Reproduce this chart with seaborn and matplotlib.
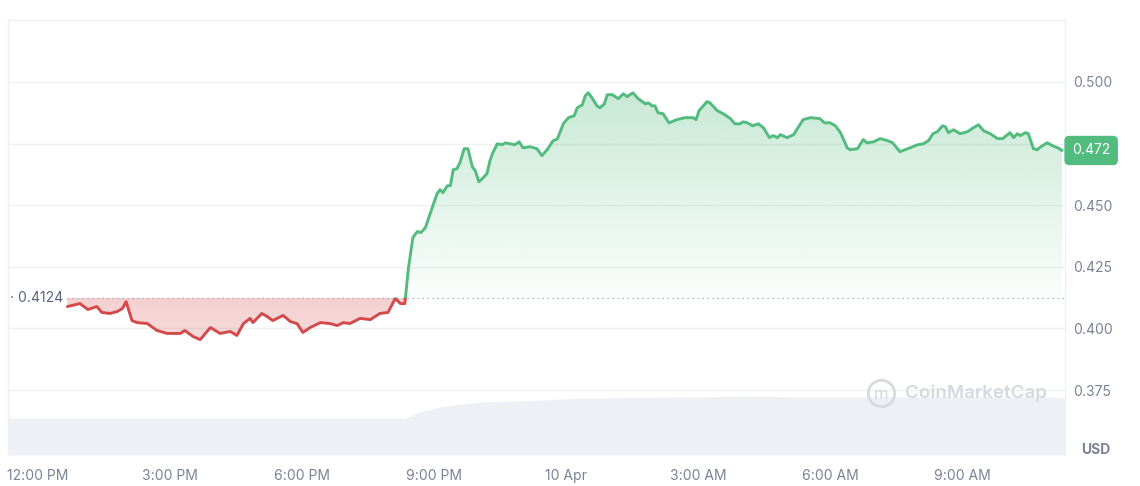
import numpy as np
import pandas as pd
import matplotlib.pyplot as plt
import matplotlib.dates as mdates
from matplotlib.patches import Rectangle, Polygon
import seaborn as sns

# -------------------------------------------------------------------------
# data - minutes after 12:00 PM, 9 Apr
# -------------------------------------------------------------------------
START = pd.Timestamp("2024-04-09 12:00")

price_minutes = [
    40, 57, 68, 80, 87, 98, 108, 115, 120, 128, 135, 149, 162, 176, 194, 200,
    211, 221, 235, 248, 262, 271, 280, 289, 293, 305, 312, 320, 334, 344, 353,
    361, 371, 385, 398, 408, 416, 425, 439, 453, 466, 477, 487, 494, 500,
    505, 511, 517, 522, 528, 535, 544, 548, 552, 558, 562, 566, 571, 575, 581,
    586, 592, 596, 601, 607, 612, 616, 620, 626, 633, 637, 650, 656, 661, 671,
    680, 687, 695, 702, 708, 716, 723, 731, 735, 742, 746, 750, 755, 762, 766,
    772, 776, 783, 791, 798, 803, 811, 818, 828, 832, 837, 841, 845, 852, 860,
    871, 882, 893, 897, 901, 912, 916, 926, 934, 944, 950, 957, 961, 967, 974,
    982, 989, 997, 1002, 1008, 1012, 1021, 1030, 1036, 1043, 1053, 1066, 1072,
    1080, 1087, 1094, 1103, 1107, 1117, 1125, 1130, 1139, 1148, 1158, 1165,
    1175, 1189, 1199, 1207, 1214, 1220, 1226, 1233, 1237, 1241, 1248, 1257,
    1267, 1275, 1282, 1289, 1298, 1308, 1315, 1325, 1330, 1335, 1339, 1346,
    1350, 1357, 1362, 1369, 1376, 1383, 1390, 1396,
]
price_values = [
    0.4089, 0.4101, 0.4077, 0.4089, 0.4065, 0.4061, 0.4069, 0.4081, 0.4109,
    0.4032, 0.4024, 0.4020, 0.3992, 0.3980, 0.3980, 0.3992, 0.3968, 0.3955,
    0.4004, 0.3980, 0.3988, 0.3972, 0.4020, 0.4041, 0.4024, 0.4061, 0.4049,
    0.4032, 0.4053, 0.4028, 0.4020, 0.3984, 0.4004, 0.4024, 0.4020, 0.4012,
    0.4024, 0.4020, 0.4041, 0.4036, 0.4061, 0.4065, 0.4122, 0.4101, 0.4101,
    0.4247, 0.4369, 0.4393, 0.4389, 0.4409, 0.4470, 0.4547, 0.4563, 0.4551,
    0.4579, 0.4579, 0.4644, 0.4648, 0.4672, 0.4729, 0.4729, 0.4656, 0.4640,
    0.4595, 0.4612, 0.4628, 0.4680, 0.4713, 0.4749, 0.4745, 0.4753, 0.4745,
    0.4757, 0.4733, 0.4737, 0.4729, 0.4701, 0.4729, 0.4761, 0.4769, 0.4830,
    0.4855, 0.4863, 0.4895, 0.4907, 0.4944, 0.4956, 0.4936, 0.4903, 0.4895,
    0.4911, 0.4948, 0.4948, 0.4932, 0.4952, 0.4940, 0.4956, 0.4932, 0.4911,
    0.4915, 0.4903, 0.4903, 0.4875, 0.4871, 0.4834, 0.4847, 0.4855, 0.4855,
    0.4847, 0.4883, 0.4920, 0.4915, 0.4883, 0.4871, 0.4851, 0.4830, 0.4830,
    0.4838, 0.4834, 0.4822, 0.4830, 0.4814, 0.4774, 0.4782, 0.4774, 0.4786,
    0.4774, 0.4786, 0.4814, 0.4847, 0.4855, 0.4851, 0.4834, 0.4834, 0.4822,
    0.4794, 0.4733, 0.4725, 0.4729, 0.4766, 0.4753, 0.4757, 0.4770, 0.4762,
    0.4753, 0.4717, 0.4733, 0.4745, 0.4749, 0.4762, 0.4790, 0.4798, 0.4822,
    0.4818, 0.4794, 0.4806, 0.4790, 0.4798, 0.4814, 0.4826, 0.4802, 0.4790,
    0.4770, 0.4770, 0.4794, 0.4774, 0.4790, 0.4782, 0.4794, 0.4790, 0.4729,
    0.4725, 0.4741, 0.4753, 0.4741, 0.4733, 0.4722,
]
open_price = 0.4124

# 24h volume, million USD
vol_minutes = [-41, 500, 521, 548, 575, 603, 657, 712, 739, 903, 957, 1039,
               1175, 1312, 1373, 1400]
vol_values = [170, 170, 198, 221, 234, 244, 248, 257, 262, 267, 271, 267,
              267, 267, 267, 262]

price_ticks = [0.375, 0.400, 0.425, 0.450, 0.475, 0.500]

# -------------------------------------------------------------------------
# style
# -------------------------------------------------------------------------
GREEN = "#52bb7e"
RED = "#d44a4b"
GRID = "#eef0f3"
TXT = "#7a8396"
MARK = "#d6d9df"

sns.set_theme(style="white")
plt.rcParams["font.family"] = ["Inter", "DejaVu Sans"]

times = START + pd.to_timedelta(price_minutes, unit="m")
vol_times = START + pd.to_timedelta(vol_minutes, unit="m")
prices = np.array(price_values)
xnum = mdates.date2num(times.to_pydatetime())

x_lo = mdates.date2num((START + pd.Timedelta(minutes=-41)).to_pydatetime())
x_hi = mdates.date2num((START + pd.Timedelta(minutes=1400)).to_pydatetime())
y_lo, y_hi = 0.3487, 0.5251

fig = plt.figure(figsize=(11.4, 4.86), dpi=100)
pos = [8 / 1140, 31 / 486, 1057 / 1140, 435 / 486]
ax_vol = fig.add_axes(pos)
ax = ax_vol.twinx()

# volume
ax_vol.fill_between(mdates.date2num(vol_times.to_pydatetime()), vol_values, 0,
                    color="#eff0f5", lw=0)
ax_vol.set_ylim(0, 2000)
ax_vol.set_yticks([])
for s in ax_vol.spines.values():
    s.set_visible(False)


def gradient_fill(ax, lo, hi, color, a_lo, a_hi, clip):
    rgb = np.array(plt.matplotlib.colors.to_rgb(color))
    img = np.zeros((100, 1, 4))
    img[:, 0, :3] = rgb
    img[:, 0, 3] = np.linspace(a_lo, a_hi, 100)
    im = ax.imshow(img, extent=(x_lo, x_hi, lo, hi), origin="lower",
                   aspect="auto", zorder=1, interpolation="bilinear")
    im.set_clip_path(clip)


verts = [(xnum[0], open_price)] + list(zip(xnum, prices)) + [(xnum[-1], open_price)]
area = Polygon(verts, closed=True, transform=ax.transData, fc="none", ec="none")
ax.add_patch(area)
gradient_fill(ax, open_price, prices.max(), GREEN, 0.02, 0.32, area)
gradient_fill(ax, prices.min(), open_price, RED, 0.20, 0.26, area)

# price line, green above the open price and red below
sns.lineplot(x=times, y=prices, color=GREEN, lw=2.1, ax=ax, zorder=3)
ax.lines[-1].set_clip_path(Rectangle((x_lo, open_price), x_hi - x_lo, 1,
                                     transform=ax.transData))
sns.lineplot(x=times, y=prices, color=RED, lw=2.1, ax=ax, zorder=3)
ax.lines[-1].set_clip_path(Rectangle((x_lo, open_price - 1), x_hi - x_lo, 1,
                                     transform=ax.transData))

ax.hlines(open_price, xnum[0], x_hi, color="#9aa2b1", lw=0.9,
          linestyles=(0, (1, 3)), zorder=2)
ax.text(0.002, open_price, "· 0.4124", transform=ax.get_yaxis_transform(),
        ha="left", va="center", fontsize=10, color="#58667e")

ax.set_xlim(x_lo, x_hi)
ax.set_ylim(y_lo, y_hi)
ax.set_yticks(price_ticks)
# the 0.475 label sits under the current-price tag
ax.set_yticklabels(["" if t == 0.475 else f"{t:.3f}" for t in price_ticks])
ax.set_ylabel("")
ax.grid(axis="y", color=GRID, lw=1)
ax.tick_params(axis="y", length=0, pad=6, labelsize=10, labelcolor=TXT)
for side in ["left", "top", "right"]:
    ax.spines[side].set_color(GRID)
    ax.spines[side].set_linewidth(1)
ax.spines["bottom"].set_visible(False)

ax_vol.xaxis.set_major_locator(mdates.HourLocator(byhour=range(0, 24, 3)))
ax_vol.xaxis.set_major_formatter(plt.FuncFormatter(
    lambda v, _: mdates.num2date(v).strftime("%-d %b")
    if mdates.num2date(v).hour == 0 else mdates.num2date(v).strftime("%-I:%M %p")))
ax_vol.tick_params(axis="x", length=0, pad=10, labelsize=10, labelcolor=TXT)
ax.tick_params(axis="x", length=0)
ax.set_xlabel("")

# current price tag
ax.text(1 + 7 / 1057, prices[-1], f"{prices[-1]:.3f}",
        transform=ax.get_yaxis_transform(), ha="left", va="center",
        fontsize=10, color="white",
        bbox=dict(boxstyle="round,pad=0.5,rounding_size=0.3", fc=GREEN, ec=GREEN))

fig.text(1110 / 1140, 1 - 450 / 486, "USD", ha="right", va="center",
         fontsize=10, fontweight="bold", color=TXT)

# watermark
wm_y = (455 - 393) / 435
ax.plot([873 / 1057], [wm_y], marker="o", ms=19, mfc="none", mec=MARK, mew=2,
        transform=ax.transAxes, zorder=2)
ax.text(873 / 1057, wm_y - 0.004, "m", transform=ax.transAxes, ha="center",
        va="center", fontsize=12, color=MARK, zorder=2)
ax.text(897 / 1057, wm_y, "CoinMarketCap", transform=ax.transAxes,
        ha="left", va="center", fontsize=13.5, fontweight="semibold",
        color=MARK, zorder=2)

plt.savefig("out.png", dpi=100)
plt.close()
